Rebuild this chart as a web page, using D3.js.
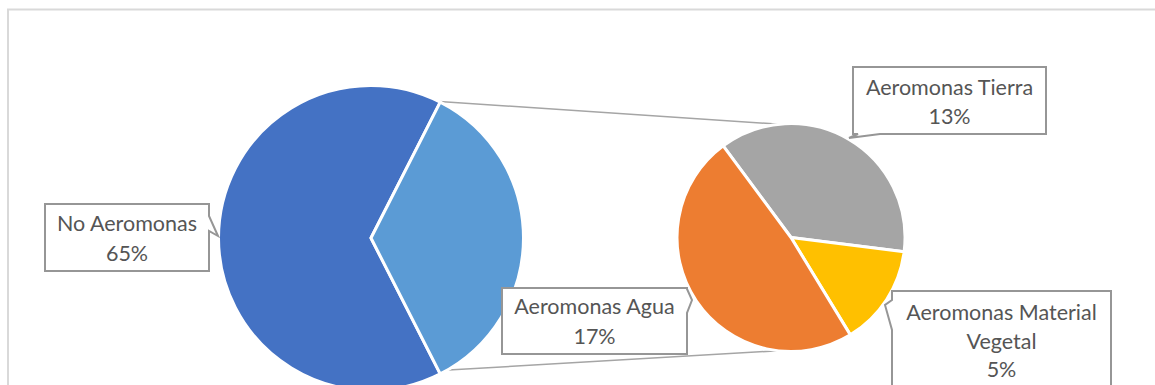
<!DOCTYPE html>
<html>
<head>
<meta charset="utf-8">
<script src="https://cdn.jsdelivr.net/npm/d3@7"></script>
<style>
  html, body { margin: 0; padding: 0; background: #fff; }
  svg { display: block; }
  text { font-family: Lato, "Open Sans", sans-serif; fill: #555; }
</style>
</head>
<body>
<svg id="chart" width="1155" height="385"></svg>
<script>
// Main pie: Aeromonas absence vs. the combined Aeromonas sources
const mainCategories = ["No Aeromonas", "Aeromonas"];
// Secondary pie: breakdown of Aeromonas by source (percent of all samples)
const subCategories = ["Aeromonas Tierra", "Aeromonas Material Vegetal", "Aeromonas Agua"];
const subValues = [13, 5, 17];
const noAeromonasValue = 65;
const mainValues = [noAeromonasValue, d3.sum(subValues)];

const mainColors = ["#4472C4", "#5B9BD5"];
const subColors = ["#A5A5A5", "#FFC000", "#ED7D31"];

const svg = d3.select("#chart");
const W = 1155, H = 385;

// Chart area frame
svg.append("rect")
  .attr("x", 8).attr("y", 9.5)
  .attr("width", W + 20).attr("height", H + 20)
  .attr("fill", "none").attr("stroke", "#d9d9d9").attr("stroke-width", 2);

const total = d3.sum(mainValues);
const sep = 3; // white gap between slices

// --- main pie geometry
const mainC = { x: 371, y: 238 };
const mainR = 151;
// the aggregated slice is centred on the right-hand side
const mainStart = Math.PI / 2 + (mainValues[1] / total) * Math.PI;
const mainPie = d3.pie().sort(null).startAngle(mainStart).endAngle(mainStart + 2 * Math.PI);
const mainArcs = mainPie(mainValues);
const mainArc = d3.arc().innerRadius(0).outerRadius(mainR + sep / 2);

// --- secondary pie geometry
const subC = { x: 791, y: 237.5 };
const subR = 112.5;
const subStart = -36.5 * Math.PI / 180;
const subPie = d3.pie().sort(null).startAngle(subStart).endAngle(subStart + 2 * Math.PI);
const subArcs = subPie(subValues);
const subArc = d3.arc().innerRadius(0).outerRadius(subR + sep / 2);

// Connector lines from the aggregated slice edges to the top/bottom of the secondary pie
const agg = mainArcs[1];
const pt = (c, r, a) => [c.x + r * Math.sin(a), c.y - r * Math.cos(a)];
const connectors = [
  [pt(mainC, mainR, agg.startAngle), pt(subC, subR, 0)],
  [pt(mainC, mainR, agg.endAngle), pt(subC, subR, Math.PI)]
];
svg.append("g").selectAll("line").data(connectors).join("line")
  .attr("x1", d => d[0][0]).attr("y1", d => d[0][1] - 2)
  .attr("x2", d => d[1][0]).attr("y2", d => d[1][1])
  .attr("stroke", "#a5a5a5").attr("stroke-width", 1.5);

svg.append("g").attr("transform", `translate(${mainC.x},${mainC.y})`)
  .selectAll("path").data(mainArcs).join("path")
  .attr("d", mainArc)
  .attr("fill", (d, i) => mainColors[i])
  .attr("stroke", "#fff").attr("stroke-width", sep).attr("stroke-linejoin", "round");

svg.append("g").attr("transform", `translate(${subC.x},${subC.y})`)
  .selectAll("path").data(subArcs).join("path")
  .attr("d", subArc)
  .attr("fill", (d, i) => subColors[i])
  .attr("stroke", "#fff").attr("stroke-width", sep).attr("stroke-linejoin", "round");

// Data callouts: box, pointer toward the slice, and centred text lines
const pct = v => Math.round(v / total * 100) + "%";
const callouts = [
  { lines: ["No Aeromonas", pct(noAeromonasValue)],
    box: [45, 204, 209, 271], pointer: [[209, 216], [218, 236], [209, 231]], side: "right",
    cx: 127, base: [230.5, 260.5] },
  { lines: ["Aeromonas Agua", pct(subValues[2])],
    box: [502, 288, 687, 354], pointer: [[687, 289], [692, 300], [687, 313]], side: "right",
    cx: 594.5, base: [313.5, 343.5] },
  { lines: ["Aeromonas Tierra", pct(subValues[0])],
    box: [853, 67, 1046, 134], pointer: [[880, 134], [849, 138], [858, 134]], side: "bottom",
    cx: 949.5, base: [95, 123.5] },
  { lines: ["Aeromonas Material", "Vegetal", pct(subValues[1])],
    box: [892, 291, 1111, 420], pointer: [[892, 330], [885, 305], [892, 300]], side: "left",
    cx: 1001.5, base: [319.5, 348.5, 377] }
];

function calloutPath(c) {
  const [x0, y0, x1, y1] = c.box;
  const p = d3.path();
  p.moveTo(x0, y0);
  // top edge
  p.lineTo(x1, y0);
  // right edge
  if (c.side === "right") c.pointer.forEach(q => p.lineTo(q[0], q[1]));
  p.lineTo(x1, y1);
  // bottom edge (right to left)
  if (c.side === "bottom") c.pointer.forEach(q => p.lineTo(q[0], q[1]));
  p.lineTo(x0, y1);
  // left edge (bottom to top)
  if (c.side === "left") c.pointer.forEach(q => p.lineTo(q[0], q[1]));
  p.closePath();
  return p.toString();
}

const cg = svg.append("g").selectAll("g").data(callouts).join("g");
cg.append("path")
  .attr("d", calloutPath)
  .attr("fill", "#fff").attr("stroke", "#969696").attr("stroke-width", 2)
  .attr("stroke-linejoin", "miter");
cg.each(function (c) {
  d3.select(this).selectAll("text").data(c.lines).join("text")
    .attr("x", c.cx).attr("y", (d, i) => c.base[i])
    .attr("text-anchor", "middle")
    .attr("font-size", 21.5)
    .text(d => d);
});
</script>
</body>
</html>
